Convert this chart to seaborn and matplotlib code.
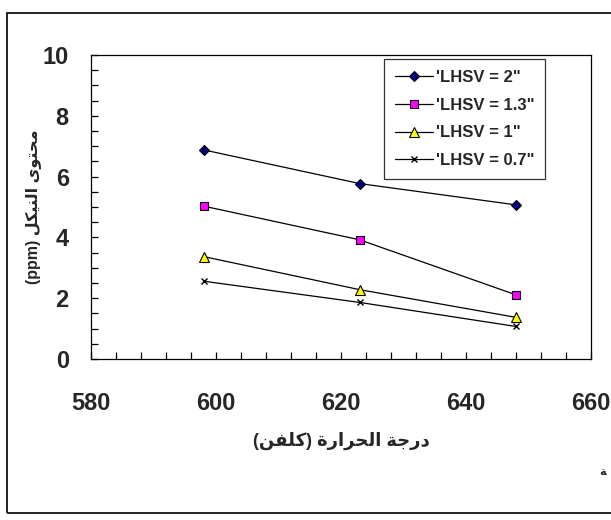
import matplotlib
matplotlib.use("Agg")
import matplotlib.pyplot as plt
from matplotlib.ticker import MultipleLocator
from matplotlib.patches import Rectangle
import seaborn as sns
import pandas as pd

# ---- data ----
temperature = [598, 623, 648]
series_labels = ["'LHSV = 2\"", "'LHSV = 1.3\"", "'LHSV = 1\"", "'LHSV = 0.7\""]
lhsv_2 = [6.88, 5.77, 5.07]
lhsv_1_3 = [5.03, 3.92, 2.11]
lhsv_1 = [3.37, 2.28, 1.37]
lhsv_0_7 = [2.56, 1.86, 1.07]
x_ticks = [580, 600, 620, 640, 660]
y_ticks = [0, 2, 4, 6, 8, 10]
# Arabic labels (pre-shaped, visual order)
x_label = "(\ufee6\ufed4\ufee0\ufedb) \ufe93\ufead\ufe8d\ufeae\ufea4\ufedf\ufe8d \ufe94\ufe9f\ufead\ufea9"
y_label = "(ppm) \ufede\ufedc\ufef4\ufee8\ufedf\ufe8d \ufeef\ufeee\ufe98\ufea4\ufee3"
stray = "\ufe94"

sns.set_theme(style="white")
plt.rcParams['font.family'] = ['Liberation Sans', 'DejaVu Sans']

fig = plt.figure(figsize=(6.11, 5.20), dpi=100)
W, H = 611, 520
ax = fig.add_axes([91 / W, 1 - 359 / H, 500 / W, 304 / H])

styles = [
    dict(marker="D", markerfacecolor="#000080", markeredgecolor="black", markersize=5.5),
    dict(marker="s", markerfacecolor="#FF00FF", markeredgecolor="black", markersize=5.5),
    dict(marker="^", markerfacecolor="#FFFF00", markeredgecolor="black", markersize=6.5),
    dict(marker="x", markerfacecolor="none", markeredgecolor="black", markersize=5, markeredgewidth=1.0),
]
values = [lhsv_2, lhsv_1_3, lhsv_1, lhsv_0_7]

for lab, vals, st in zip(series_labels, values, styles):
    df = pd.DataFrame({"T": temperature, "Ni": vals})
    sns.lineplot(data=df, x="T", y="Ni", ax=ax, color="black", linewidth=0.9,
                 label=lab, markeredgewidth=st.pop("markeredgewidth", 0.8), **st)

ax.set_xlim(580, 660)
ax.set_ylim(0, 10)
ax.set_xticks(x_ticks)
ax.set_yticks(y_ticks)
ax.xaxis.set_minor_locator(MultipleLocator(4))
ax.yaxis.set_minor_locator(MultipleLocator(0.5))
ax.tick_params(axis="both", which="both", direction="in", length=5, width=0.9,
               color="black", top=False, right=False, bottom=True, left=True)
ax.tick_params(axis="x", which="major", pad=24, labelsize=17)
ax.tick_params(axis="y", which="major", pad=16, labelsize=17)
for lbl in ax.get_xticklabels() + ax.get_yticklabels():
    lbl.set_fontweight("bold")
for s in ax.spines.values():
    s.set_color("black")
    s.set_linewidth(0.9)

ax.set_xlabel(x_label, fontsize=13, fontweight="bold", labelpad=12)
ax.set_ylabel(y_label, fontsize=11.5, fontweight="bold", labelpad=0.5)

leg = ax.legend(loc="upper left", bbox_to_anchor=((384 - 91) / 500, 1 - 4 / 304),
                borderaxespad=0, frameon=True, fancybox=False, edgecolor="black",
                prop={"size": 12, "weight": "bold"}, handlelength=2.3,
                handletextpad=0.15, labelspacing=0.76, borderpad=0.66)
leg.get_frame().set_linewidth(0.9)

fig.patches.append(Rectangle((7 / W, 1 - 513 / H), 620 / W, 500 / H, transform=fig.transFigure,
                             fill=False, edgecolor="black", linewidth=1.2))
fig.text(603 / W, 1 - 472 / H, stray, fontsize=8, fontweight="bold", ha="center", va="center",
         family="DejaVu Sans")

fig.savefig("out.png", dpi=100)
